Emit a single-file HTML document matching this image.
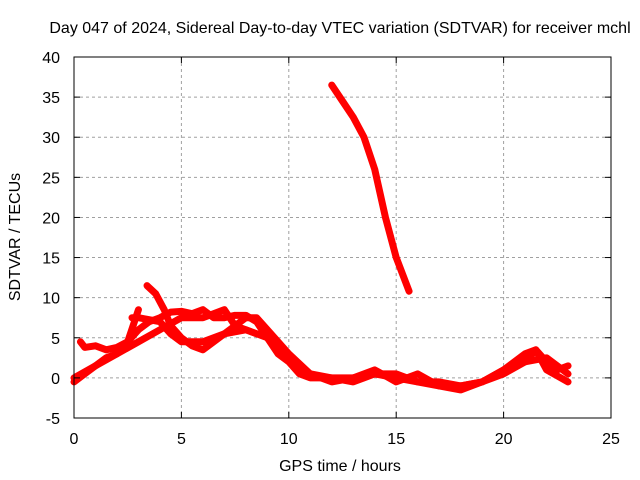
<!DOCTYPE html>
<html><head><meta charset="utf-8"><style>
body{margin:0;background:#fff}
svg{display:block;font-family:"Liberation Sans",sans-serif}
</style></head><body>
<svg id="c" width="640" height="480">
<text x="340" y="33" font-size="16" text-anchor="middle">Day 047 of 2024, Sidereal Day-to-day VTEC variation (SDTVAR) for receiver mchl</text>
<text transform="translate(20,237) rotate(-90)" font-size="16" text-anchor="middle">SDTVAR / TECUs</text>
<text x="340" y="471" font-size="16" text-anchor="middle">GPS time / hours</text>
<g id="grid"></g><g id="series"></g><g id="axes"></g>
</svg>
<script>
const xTicks=[0,5,10,15,20,25];
const yTicks=[-5,0,5,10,15,20,25,30,35,40];
const s1=[[0,-0.5],[0.5,0.5],[1,1.5],[1.5,2.5],[2,3],[2.5,4.5],[3,8.5]];
const s2=[[0.3,4.5],[0.5,3.8],[1,4],[1.5,3.5],[2,3.8],[2.5,4.5],[3,6],[3.5,7],[4,7.5],[4.5,8.2],[5,8.3],[5.5,8],[6,8.5],[6.5,7.5],[7,7.5],[7.5,7.8],[8,7.8],[8.5,7],[9,5],[9.5,3],[10,2],[10.5,0.5],[11,0],[12,0],[13,0],[14,0.5],[15,0],[16,-0.5],[17,-0.5],[18,-1],[19,-0.5],[20,0.5],[21,2],[21.5,3.5],[22,2],[22.5,1],[23,1.5]];
const s3=[[0,0],[1,1.5],[2,3],[3,4.5],[4,6],[5,7.5],[6,7.5],[7,8.5],[7.5,6.5],[8,6],[9,5],[10,2.5],[11,0.5],[12,-0.5],[13,0],[14,1],[15,-0.5],[16,0.5],[17,-1],[18,-1.5],[19,-0.5],[20,1],[21,3],[21.5,3.5],[22,1],[23,-0.5]];
const s4=[[3.4,11.5],[3.8,10.5],[4.2,8.5],[4.5,6.5],[5,5],[5.5,4],[6,3.5],[6.5,4.5],[7,5.5],[7.5,6.5],[8,7.5],[8.5,7.5],[9,6],[10,3],[11,0.5],[12,0],[13,-0.5],[14,0.5],[15,0.5],[16,-0.5],[17,-1],[18,-1],[19,-0.5],[20,1],[21,2],[22,2.5],[23,0.5]];
const s5=[[2.7,7.5],[3,7.5],[4,7],[4.5,5.5],[5,4.5],[6,4.5],[7,5.5],[8,6],[8.5,5.5]];
const s6=[[12,36.5],[12.5,34.5],[13,32.5],[13.5,30],[14,26],[14.5,20],[15,15],[15.6,10.8]];
const X0=74,X1=611,Y0=418,Y1=57;
const xs=v=>X0+(v-0)/(25)*(X1-X0);
const ys=v=>Y0-(v+5)/45*(Y0-Y1);
const NS='http://www.w3.org/2000/svg';
const grid=document.getElementById('grid'),axes=document.getElementById('axes'),ser=document.getElementById('series');
function mk(tag,at,p){const e=document.createElementNS(NS,tag);for(const k in at)e.setAttribute(k,at[k]);p.appendChild(e);return e;}
xTicks.forEach(t=>{const x=xs(t);
 if(t>0&&t<25){const g=mk('line',{x1:x,x2:x,y1:Y1,y2:Y0,stroke:'#a0a0a0','stroke-dasharray':'3,3'},grid);
 
 }
 const tx=mk('text',{x:x,y:Y0+26,'font-size':16,'text-anchor':'middle'},axes);tx.textContent=t;
 
 
 mk('line',{x1:x,x2:x,y1:Y0,y2:Y0-6,stroke:'#000'},axes);mk('line',{x1:x,x2:x,y1:Y1,y2:Y1+6,stroke:'#000'},axes);});
yTicks.forEach(t=>{const y=ys(t);
 if(t>-5&&t<40){const g=mk('line',{x1:X0,x2:X1,y1:y,y2:y,stroke:'#a0a0a0','stroke-dasharray':'3,3'},grid);
 
 }
 const tx=mk('text',{x:X0-14,y:y+6,'font-size':16,'text-anchor':'end'},axes);tx.textContent=t;
 
 
 mk('line',{x1:X0,x2:X0+6,y1:y,y2:y,stroke:'#000'},axes);mk('line',{x1:X1,x2:X1-6,y1:y,y2:y,stroke:'#000'},axes);});
const fr=mk('rect',{x:X0,y:Y1,width:X1-X0,height:Y0-Y1,fill:'none',stroke:'#000'},axes);


[s1,s2,s3,s4,s5,s6].forEach((s,i)=>{
 const p=mk('polyline',{points:s.map(d=>xs(d[0])+','+ys(d[1])).join(' '),fill:'none',stroke:'#ff0000','stroke-width':7,'stroke-linejoin':'round','stroke-linecap':'round'},ser);
 
 
});
</script>
</body></html>
